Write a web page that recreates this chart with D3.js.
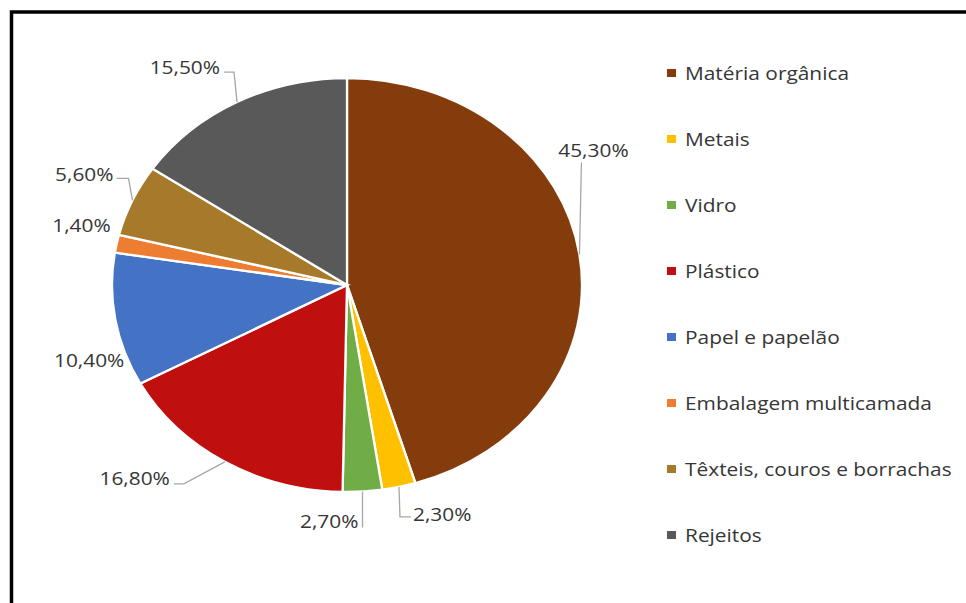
<!DOCTYPE html>
<html>
<head>
<meta charset="utf-8">
<script src="https://cdn.jsdelivr.net/npm/d3@7"></script>
<style>
  html, body { margin: 0; padding: 0; background: #fff; }
  svg { display: block; }
</style>
</head>
<body>
<script>
// composição gravimétrica dos resíduos
var categories = ['Matéria orgânica', 'Metais', 'Vidro', 'Plástico',
  'Papel e papelão', 'Embalagem multicamada', 'Têxteis, couros e borrachas', 'Rejeitos'];
var values = [45.3, 2.3, 2.7, 16.8, 10.4, 1.4, 5.6, 15.5];
var labels = ['45,30%', '2,30%', '2,70%', '16,80%', '10,40%', '1,40%', '5,60%', '15,50%'];
var colors = ['#843c0c', '#ffc000', '#70ad47', '#c00f0f', '#4472c4', '#ed7d31', '#a67a2a', '#595959'];

// where each data label sits relative to its slice (Excel "best fit")
// a: leader end from outer point, hook: elbow x from leader end, t: text from leader end
var labelLayout = [
  { a: [2, -92],  hook: 0,   t: [12, -6], anchor: 'middle', leader: true },
  { a: [12, 30],  hook: -11, t: [2, 4],   anchor: 'start',  leader: true },
  { a: [0, 36],   hook: 0,   t: [-4, 0],  anchor: 'end',    leader: true },
  { a: [-51, 22], hook: 10,  t: [-4, 1],  anchor: 'end',    leader: true },
  { a: [0, 0],    hook: 0,   t: [9, 47],  anchor: 'end',    leader: false },
  { a: [0, 0],    hook: 0,   t: [-6, -12], anchor: 'end',   leader: false },
  { a: [-16, -22], hook: 12, t: [-3, 3],  anchor: 'end',    leader: true },
  { a: [-13, -30], hook: 10, t: [-4, 2],  anchor: 'end',    leader: true }
];

var width = 966, height = 603;
var cx = 347, cy = 285, rx = 235, ry = 207;
var sx = 1.16; // the picture is stretched sideways
var textColor = '#363636';

var svg = d3.select('body').append('svg')
  .attr('width', width)
  .attr('height', height);

svg.append('rect')
  .attr('x', 11.5).attr('y', 12)
  .attr('width', 1000).attr('height', 700)
  .attr('fill', 'none')
  .attr('stroke', '#000')
  .attr('stroke-width', 3.5);

var pie = d3.pie().sort(null).value(function(d) { return d; });
var arcs = pie(values);

var arc = d3.arc().innerRadius(0).outerRadius(ry);

var pieG = svg.append('g')
  .attr('transform', 'translate(' + cx + ',' + cy + ') scale(' + (rx / ry) + ',1)');

pieG.selectAll('path')
  .data(arcs)
  .enter()
  .append('path')
  .attr('d', arc)
  .attr('fill', function(d, i) { return colors[i]; })
  .attr('stroke', '#fff')
  .attr('stroke-width', 2.3)
  .attr('vector-effect', 'non-scaling-stroke');

function outerPoint(d) {
  var a = (d.startAngle + d.endAngle) / 2;
  return [cx + rx * Math.sin(a), cy - ry * Math.cos(a)];
}

var labelG = svg.append('g');

arcs.forEach(function(d, i) {
  var L = labelLayout[i];
  var p = outerPoint(d);
  var end = [p[0] + L.a[0], p[1] + L.a[1]];
  if (L.leader) {
    var pts = [p];
    if (L.hook !== 0) pts.push([end[0] + L.hook, end[1]]);
    pts.push(end);
    labelG.append('path')
      .attr('d', d3.line()(pts))
      .attr('fill', 'none')
      .attr('stroke', '#a6a6a6')
      .attr('stroke-width', 1.3);
  }
  labelG.append('text')
    .attr('transform', 'translate(' + (end[0] + L.t[0]) + ',' + (end[1] + L.t[1]) + ') scale(' + sx + ',1)')
    .attr('text-anchor', L.anchor)
    .attr('font-family', '"Open Sans", sans-serif')
    .attr('font-size', 18)
    .attr('fill', textColor)
    .text(labels[i]);
});

// legend
var legendY = d3.scalePoint()
  .domain(categories)
  .range([73, 535]);

var legend = svg.append('g')
  .selectAll('g')
  .data(categories)
  .enter()
  .append('g')
  .attr('transform', function(d) { return 'translate(667,' + legendY(d) + ')'; });

legend.append('rect')
  .attr('x', 0).attr('y', -4)
  .attr('width', 9).attr('height', 8)
  .attr('fill', function(d, i) { return colors[i]; });

legend.append('text')
  .attr('transform', 'translate(18,6.5) scale(' + sx + ',1)')
  .attr('font-family', '"Open Sans", sans-serif')
  .attr('font-size', 18)
  .attr('fill', textColor)
  .text(function(d) { return d; });
</script>
</body>
</html>
